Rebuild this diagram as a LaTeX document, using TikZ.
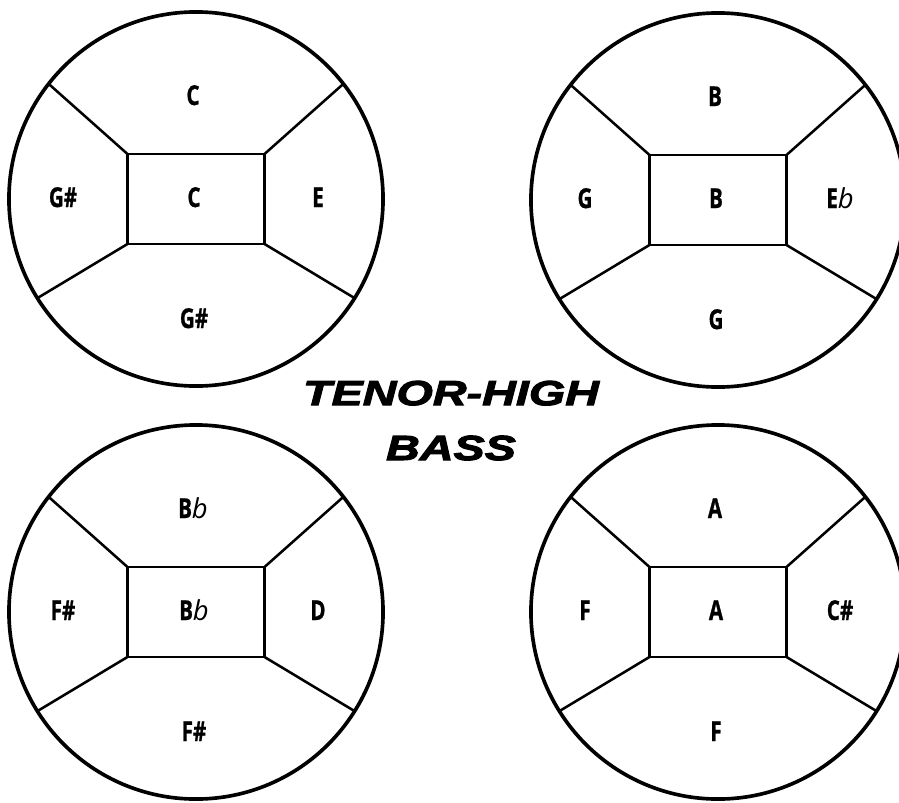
\documentclass[tikz,border=0pt]{standalone}
\usepackage{fontspec}
\newfontfamily\notefont[FakeStretch=0.75, BoldFeatures={FakeBold=0.8}]{Open Sans}
\newfontfamily\flatfont{Open Sans}
\newfontfamily\titlefont[FakeStretch=1.34, BoldItalicFeatures={FakeBold=3}]{Liberation Sans}
\usetikzlibrary{calc, positioning}
\def\px{0.025cm}
\def\drumsize{9.35cm}
\def\noterectwidth{3.425cm}
\def\noterectheight{2.25cm}
\def\drumlinewidth{2.6pt}
\def\notelinewidth{1.8pt}
\def\labelupper{-94}
\def\labelmiddle{8}
\def\labellower{129}
\def\labelleft{-133}
\def\labelright{122}
\newcommand{\noteflat}{{\flatfont\mdseries\itshape b}}
\tikzset{
	% drum outline
	drum/.style={
		draw,
		line width=\drumlinewidth,
		shape=circle,
		minimum size=\drumsize,
		inner sep=0,
		outer sep=0,
	},
	% centre note
	centre_note/.style={
		draw,
		line width=\notelinewidth,
		shape=rectangle,
		minimum width=\noterectwidth,
		minimum height=\noterectheight,
		inner sep=0,
		outer sep=0,
	},
	% note borders
	note_line/.style={
		line width=\notelinewidth,
	},
	% labels
	note_label/.style={
		font=\notefont\bfseries\fontsize{19.5}{22}\selectfont,
		anchor=base,
		inner sep=0,
	},
	title_label/.style={
		font=\titlefont\bfseries\itshape\fontsize{24.8}{39}\selectfont,
		align=center,
		anchor=base,
		inner sep=0,
	},
}
\begin{document}
\begin{tikzpicture}[x=\px, y=-\px]
	\useasboundingbox (0,0) rectangle (899,802);
	\foreach \cx/\cy/\drum/\centrenote/\topnote/\leftnote/\rightnote/\bottomnote in {
		196/199/tl/C/C/G\#/E/G\#,
		718/200/tr/B/B/G/E\noteflat/G,
		196/612/bl/B\noteflat/B\noteflat/F\#/D/F\#,
		718/612/br/A/A/F/C\#/F%
	} {
		% Drum
		\node [
			drum,
		] (\drum) at (\cx,\cy) {};
		%% Centre note
		\node [
			centre_note,
		] (centre_\drum) at (\drum) {};
		%% Borders
		\foreach \corner/\angle in {north west/142, north east/38, south west/212, south east/328} {
			\draw[note_line] (centre_\drum.\corner) -- (\drum.\angle);
		}
		%% Labels
		\node[note_label] (label_centre_\drum) at ($(\drum) + (-2,\labelmiddle)$) {\centrenote};
		\node[note_label] (label_top_\drum) at ($(\drum) + (-3,\labelupper)$) {\topnote};
		\node[note_label] (label_left_\drum) at ($(\drum) + (\labelleft,\labelmiddle)$) {\leftnote};
		\node[note_label] (label_right_\drum) at ($(\drum) + (\labelright,\labelmiddle)$) {\rightnote};
		\node[note_label] (label_bottom_\drum) at ($(\drum) + (-2,\labellower)$) {\bottomnote};
	}

	% Title
	\node[
		title_label,
	] (title) at (451,460) {TENOR-HIGH\\BASS};
\end{tikzpicture}
\end{document}
